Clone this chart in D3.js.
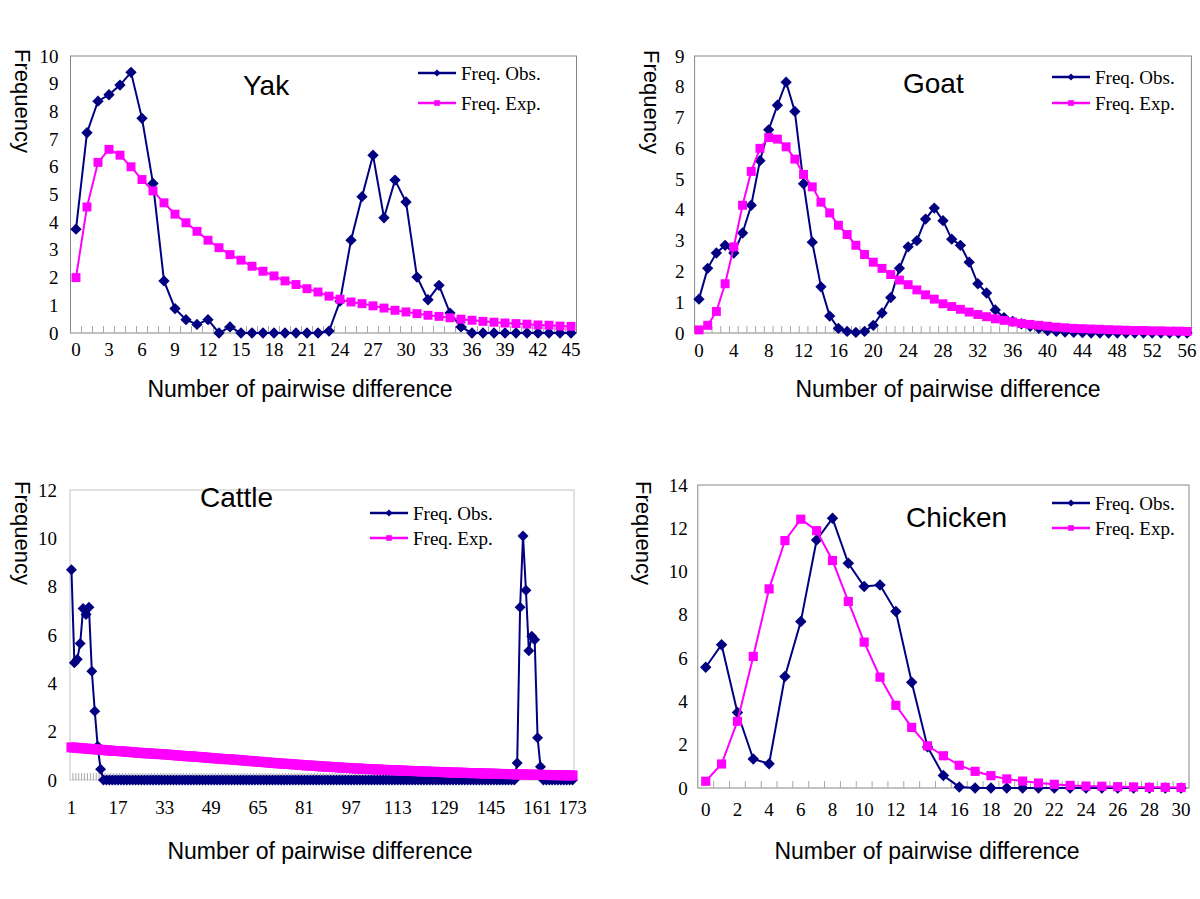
<!DOCTYPE html>
<html>
<head>
<meta charset="utf-8">
<script src="https://cdn.jsdelivr.net/npm/d3@7"></script>
<style>
body { margin: 0; background: #fff; }
svg { display: block; }
</style>
</head>
<body>
<script>
// values (mismatch distributions)
var yakCats = d3.range(0, 46);
var yakObs = [3.75, 7.23, 8.37, 8.6, 8.95, 9.41, 7.75, 5.4, 1.88, 0.88,
    0.48, 0.31, 0.48, 0, 0.22, 0, 0, 0, 0, 0,
    0, 0, 0, 0.07, 1.15, 3.35, 4.92, 6.42, 4.16, 5.52,
    4.73, 2.02, 1.2, 1.72, 0.72, 0.22, 0, 0, 0, 0,
    0, 0, 0, 0, 0, 0];
var yakExp = [2.0, 4.55, 6.16, 6.63, 6.42, 6.0, 5.54, 5.13, 4.7, 4.29,
    3.98, 3.67, 3.35, 3.08, 2.83, 2.63, 2.41, 2.23, 2.06, 1.88,
    1.75, 1.6, 1.48, 1.33, 1.22, 1.12, 1.06, 0.98, 0.9, 0.82,
    0.76, 0.7, 0.64, 0.6, 0.55, 0.5, 0.46, 0.42, 0.39, 0.36,
    0.34, 0.32, 0.29, 0.28, 0.25, 0.24];
var yakTicks = [0, 3, 6, 9, 12, 15, 18, 21, 24, 27, 30, 33, 36, 39, 42, 45];

var goatCats = d3.range(0, 57);
var goatObs = [1.1, 2.1, 2.6, 2.85, 2.6, 3.25, 4.15, 5.6, 6.6, 7.4,
    8.15, 7.2, 4.85, 2.95, 1.5, 0.55, 0.15, 0.05, 0.02, 0.05,
    0.25, 0.65, 1.15, 2.1, 2.8, 3.0, 3.7, 4.06, 3.65, 3.05,
    2.85, 2.3, 1.6, 1.3, 0.75, 0.5, 0.38, 0.3, 0.22, 0.15,
    0.08, 0.05, 0.03, 0.02, 0.01, 0, 0, 0, 0, 0,
    0, 0, 0, 0, 0, 0, 0];
var goatExp = [0.1, 0.25, 0.7, 1.6, 2.8, 4.15, 5.25, 6.0, 6.35, 6.3,
    6.05, 5.65, 5.15, 4.75, 4.25, 3.9, 3.5, 3.2, 2.85, 2.55,
    2.3, 2.1, 1.9, 1.72, 1.57, 1.4, 1.24, 1.1, 0.95, 0.86,
    0.77, 0.68, 0.6, 0.53, 0.46, 0.41, 0.36, 0.31, 0.28, 0.25,
    0.22, 0.19, 0.17, 0.15, 0.14, 0.13, 0.12, 0.11, 0.1, 0.09,
    0.08, 0.08, 0.07, 0.07, 0.06, 0.06, 0.05];
var goatTicks = [0, 4, 8, 12, 16, 20, 24, 28, 32, 36, 40, 44, 48, 52, 56];

var cattleCats = d3.range(1, 174);
var cattleObs = [8.7, 4.85, 5.0, 5.65, 7.1, 6.85, 7.15, 4.5, 2.85, 1.4,
    0.45, 0, 0, 0, 0, 0, 0, 0, 0, 0,
    0, 0, 0, 0, 0, 0, 0, 0, 0, 0,
    0, 0, 0, 0, 0, 0, 0, 0, 0, 0,
    0, 0, 0, 0, 0, 0, 0, 0, 0, 0,
    0, 0, 0, 0, 0, 0, 0, 0, 0, 0,
    0, 0, 0, 0, 0, 0, 0, 0, 0, 0,
    0, 0, 0, 0, 0, 0, 0, 0, 0, 0,
    0, 0, 0, 0, 0, 0, 0, 0, 0, 0,
    0, 0, 0, 0, 0, 0, 0, 0, 0, 0,
    0, 0, 0, 0, 0, 0, 0, 0, 0, 0,
    0, 0, 0, 0, 0, 0, 0, 0, 0, 0,
    0, 0, 0, 0, 0, 0, 0, 0, 0, 0,
    0, 0, 0, 0, 0, 0, 0, 0, 0, 0,
    0, 0, 0, 0, 0, 0, 0, 0, 0, 0,
    0, 0, 0, 0.7, 7.15, 10.1, 7.85, 5.35, 5.95, 5.8,
    1.75, 0.55, 0, 0, 0, 0, 0, 0, 0, 0,
    0, 0, 0];
var cattleExp = [1.35, 1.34, 1.33, 1.32, 1.31, 1.30, 1.29, 1.28, 1.27, 1.26,
    1.25, 1.24, 1.23, 1.22, 1.21, 1.20, 1.20, 1.19, 1.18, 1.17,
    1.16, 1.15, 1.14, 1.13, 1.12, 1.11, 1.10, 1.10, 1.09, 1.08,
    1.07, 1.07, 1.06, 1.05, 1.04, 1.03, 1.02, 1.01, 1.00, 0.99,
    0.98, 0.98, 0.97, 0.96, 0.95, 0.94, 0.93, 0.92, 0.91, 0.90,
    0.89, 0.88, 0.87, 0.86, 0.86, 0.85, 0.84, 0.83, 0.82, 0.81,
    0.80, 0.79, 0.78, 0.77, 0.76, 0.75, 0.74, 0.73, 0.72, 0.71,
    0.70, 0.69, 0.68, 0.67, 0.67, 0.66, 0.65, 0.64, 0.63, 0.62,
    0.61, 0.60, 0.60, 0.59, 0.58, 0.57, 0.56, 0.56, 0.55, 0.54,
    0.53, 0.53, 0.52, 0.51, 0.50, 0.50, 0.49, 0.48, 0.48, 0.47,
    0.46, 0.46, 0.45, 0.45, 0.44, 0.43, 0.43, 0.42, 0.42, 0.41,
    0.41, 0.40, 0.40, 0.39, 0.39, 0.38, 0.38, 0.37, 0.37, 0.36,
    0.36, 0.35, 0.35, 0.34, 0.34, 0.34, 0.33, 0.33, 0.32, 0.32,
    0.31, 0.31, 0.31, 0.30, 0.30, 0.30, 0.29, 0.29, 0.28, 0.28,
    0.28, 0.27, 0.27, 0.27, 0.26, 0.26, 0.26, 0.25, 0.25, 0.25,
    0.24, 0.24, 0.24, 0.23, 0.23, 0.23, 0.23, 0.22, 0.22, 0.22,
    0.22, 0.21, 0.21, 0.21, 0.21, 0.20, 0.20, 0.20, 0.20, 0.19,
    0.19, 0.19, 0.19];
var cattleTicks = [1, 17, 33, 49, 65, 81, 97, 113, 129, 145, 161, 173];

var chickenCats = d3.range(0, 31);
var chickenObs = [5.58, 6.62, 3.49, 1.34, 1.12, 5.15, 7.69, 11.46, 12.46, 10.38,
    9.31, 9.38, 8.15, 4.89, 1.9, 0.58, 0.05, 0, 0, 0,
    0, 0, 0, 0, 0, 0, 0, 0, 0, 0, 0];
var chickenExp = [0.31, 1.11, 3.08, 6.08, 9.2, 11.43, 12.42, 11.89, 10.51, 8.62,
    6.74, 5.12, 3.82, 2.8, 1.95, 1.49, 1.05, 0.77, 0.57, 0.42,
    0.32, 0.23, 0.17, 0.12, 0.09, 0.08, 0.06, 0.05, 0.03, 0.03, 0.02];
var chickenTicks = [0, 2, 4, 6, 8, 10, 12, 14, 16, 18, 20, 22, 24, 26, 28, 30];

var legendNames = ["Freq. Obs.", "Freq. Exp."];

var OBS = "#000080", EXP = "#ff00ff";
var SERIF = "'Liberation Serif', 'Times New Roman', serif";
var SANS = "'Liberation Sans', Arial, sans-serif";

var svg = d3.select("body").append("svg")
    .attr("width", 1200)
    .attr("height", 899);

// diamonds are squares turned by 45 degrees
function marker(sel, color, size){
    sel.attr("d", d3.symbol(d3.symbolSquare, size)())
        .attr("fill", color);
}

function drawPanel(p){
    var g = svg.append("g");
    var x = d3.scaleBand().domain(p.cats).range([p.left, p.right]);
    var y = d3.scaleLinear().domain([0, p.yMax]).range([p.bottom, p.top]);
    var half = x.bandwidth() / 2;

    g.append("rect")
        .attr("x", p.left)
        .attr("y", p.top)
        .attr("width", p.right - p.left)
        .attr("height", p.bottom - p.top)
        .attr("fill", "none")
        .attr("stroke", p.frame);

    // little category ticks, pointing up into the plot
    g.selectAll(".tk").data(p.cats.slice(1)).enter().append("line")
        .attr("x1", function(d){ return x(d); })
        .attr("x2", function(d){ return x(d); })
        .attr("y1", p.bottom)
        .attr("y2", p.bottom - 7)
        .attr("stroke", "#a8a8a8");

    var xa = g.append("g")
        .attr("transform", "translate(0," + p.bottom + ")")
        .call(d3.axisBottom(x).tickValues(p.xTicks).tickSize(0).tickPadding(p.xPad));
    xa.select(".domain").remove();
    xa.selectAll("text").attr("font-family", SERIF).attr("font-size", 19).attr("fill", "#000");

    var ya = g.append("g")
        .attr("transform", "translate(" + p.left + ",0)")
        .call(d3.axisLeft(y).tickValues(p.yTicks).tickSize(0).tickPadding(p.yPad).tickFormat(d3.format("d")));
    ya.select(".domain").remove();
    ya.selectAll("text").attr("font-family", SERIF).attr("font-size", 19).attr("fill", "#000");

    var line = d3.line()
        .x(function(d, i){ return x(p.cats[i]) + half; })
        .y(function(d){ return y(d); });

    var series = [
        {vals: p.obs, color: OBS, size: p.dSize, rot: 45},
        {vals: p.exp, color: EXP, size: p.sSize, rot: 0}
    ];
    series.forEach(function(s){
        g.append("path")
            .attr("d", line(s.vals))
            .attr("fill", "none")
            .attr("stroke", s.color)
            .attr("stroke-width", 2);
        g.selectAll(null).data(s.vals).enter().append("path")
            .call(marker, s.color, s.size)
            .attr("transform", function(d, i){
                return "translate(" + (x(p.cats[i]) + half) + "," + y(d) + ") rotate(" + s.rot + ")";
            });
    });

    // legend
    series.forEach(function(s, k){
        var ly = p.legY[k];
        g.append("line")
            .attr("x1", p.legX).attr("x2", p.legX + 38)
            .attr("y1", ly).attr("y2", ly)
            .attr("stroke", s.color).attr("stroke-width", 2.5);
        g.append("path")
            .call(marker, s.color, k === 0 ? 24 : 32)
            .attr("transform", "translate(" + (p.legX + 19) + "," + ly + ") rotate(" + s.rot + ")");
        g.append("text")
            .attr("x", p.legX + 43).attr("y", ly)
            .attr("dominant-baseline", "central")
            .attr("font-family", SERIF).attr("font-size", 19)
            .text(legendNames[k]);
    });

    g.append("text")
        .attr("x", p.titleX).attr("y", p.titleY)
        .attr("font-family", SANS).attr("font-size", 28)
        .text(p.title);

    g.append("text")
        .attr("transform", "translate(" + p.fx + "," + p.fy + ") rotate(90)")
        .attr("text-anchor", "middle")
        .attr("dominant-baseline", "central")
        .attr("font-family", SANS).attr("font-size", 22)
        .text("Frequency");

    g.append("text")
        .attr("x", p.lx).attr("y", p.ly)
        .attr("text-anchor", "middle")
        .attr("font-family", SANS).attr("font-size", 23)
        .text("Number of pairwise difference");
}

drawPanel({title: "Yak", cats: yakCats, obs: yakObs, exp: yakExp, xTicks: yakTicks,
    yMax: 10, yTicks: d3.range(0, 11), left: 70.5, right: 576.5, top: 56, bottom: 333,
    frame: "#868686", xPad: 10, yPad: 12, legX: 418, legY: [73, 103], dSize: 64, sSize: 80,
    titleX: 243, titleY: 95, fx: 22, fy: 101, lx: 300, ly: 397});

drawPanel({title: "Goat", cats: goatCats, obs: goatObs, exp: goatExp, xTicks: goatTicks,
    yMax: 9, yTicks: d3.range(0, 10), left: 694.6, right: 1191.4, top: 56, bottom: 333,
    frame: "#868686", xPad: 11, yPad: 10, legX: 1052, legY: [77, 103], dSize: 64, sSize: 80,
    titleX: 903, titleY: 93, fx: 651, fy: 102, lx: 948, ly: 397});

drawPanel({title: "Cattle", cats: cattleCats, obs: cattleObs, exp: cattleExp, xTicks: cattleTicks,
    yMax: 12, yTicks: [0, 2, 4, 6, 8, 10, 12], left: 70, right: 574, top: 490, bottom: 780,
    frame: "#c4c4c4", xPad: 21, yPad: 13, legX: 370, legY: [513, 538], dSize: 60, sSize: 100,
    titleX: 200, titleY: 507, fx: 22, fy: 533, lx: 320, ly: 859});

drawPanel({title: "Chicken", cats: chickenCats, obs: chickenObs, exp: chickenExp, xTicks: chickenTicks,
    yMax: 14, yTicks: [0, 2, 4, 6, 8, 10, 12, 14], left: 697.8, right: 1189, top: 485, bottom: 788,
    frame: "#868686", xPad: 15, yPad: 10, legX: 1052, legY: [503, 528], dSize: 66, sSize: 84,
    titleX: 906, titleY: 527, fx: 643, fy: 533, lx: 927, ly: 859});
</script>
</body>
</html>
